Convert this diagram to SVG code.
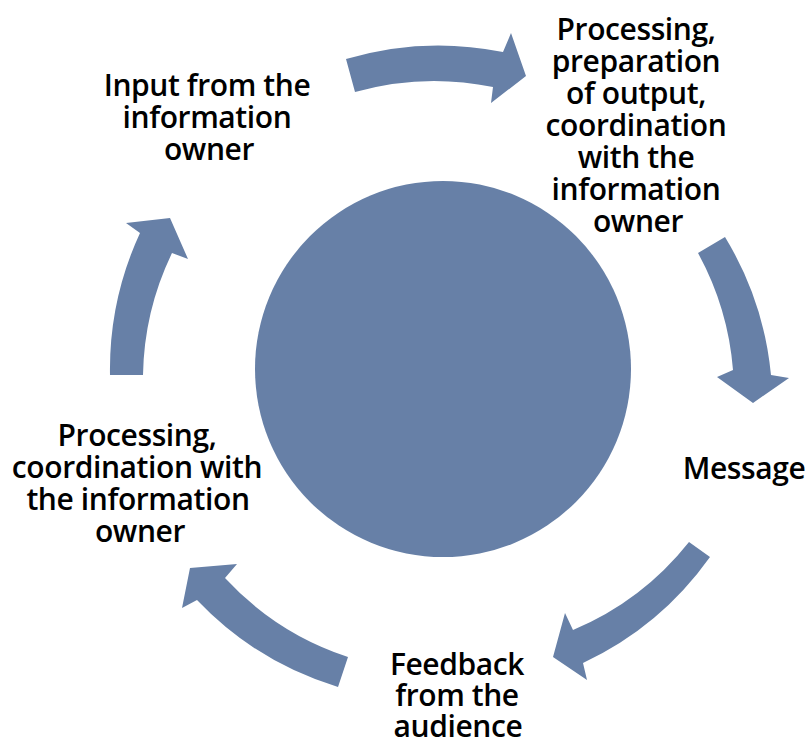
<svg xmlns="http://www.w3.org/2000/svg" width="807" height="740" viewBox="0 0 807 740">
<style>
.shape{fill:#6780A7;}
.lbl{font-family:"Open Sans","Noto Sans","Liberation Sans",sans-serif;font-size:30px;font-weight:600;fill:#000;text-anchor:middle;letter-spacing:-0.4px;}
</style>
<rect width="807" height="740" fill="#fff"/>
<g id="center">
<circle class="shape" cx="443" cy="369" r="188"/>
</g>
<g id="connectors">
<path class="shape" d="M346,59 A325,325 0 0 1 503,52 L511,33 L526,76 L491,103 L493,87 A292,292 0 0 0 355,92 Z"/>
<path class="shape" d="M725,237 A325,325 0 0 1 771,375 L789,378 L753,403 L717,377 L733,370 A292,292 0 0 0 698,253 Z"/>
<path class="shape" d="M710,557 A325,325 0 0 1 583,663 L587,680 L553,657 L565,613 L573,630 A292,292 0 0 0 689,542 Z"/>
<path class="shape" d="M338,687 A325,325 0 0 1 197,600 L182,608 L190,568 L237,564 L225,578 A292,292 0 0 0 348,657 Z"/>
<path class="shape" d="M110,375 A325,325 0 0 1 140,233 L126,223 L170,218 L188,259 L172,253 A292,292 0 0 0 143,375 Z"/>
</g>
<g id="node-input">
<text class="lbl" x="207" y="96">Input from the</text>
<text class="lbl" x="207" y="128">information</text>
<text class="lbl" x="209" y="160">owner</text>
</g>
<g id="node-processing-preparation">
<text class="lbl" x="636" y="40">Processing,</text>
<text class="lbl" x="636" y="72">preparation</text>
<text class="lbl" x="636" y="104">of output,</text>
<text class="lbl" x="636" y="136">coordination</text>
<text class="lbl" x="636" y="168">with the</text>
<text class="lbl" x="636" y="200">information</text>
<text class="lbl" x="638" y="232">owner</text>
</g>
<g id="node-message">
<text class="lbl" x="744" y="479">Message</text>
</g>
<g id="node-feedback">
<text class="lbl" x="457" y="675">Feedback</text>
<text class="lbl" x="457" y="706">from the</text>
<text class="lbl" x="458" y="737">audience</text>
</g>
<g id="node-processing-coordination">
<text class="lbl" x="137" y="446">Processing,</text>
<text class="lbl" x="137" y="478">coordination with</text>
<text class="lbl" x="138" y="510">the information</text>
<text class="lbl" x="140" y="542">owner</text>
</g>
</svg>
